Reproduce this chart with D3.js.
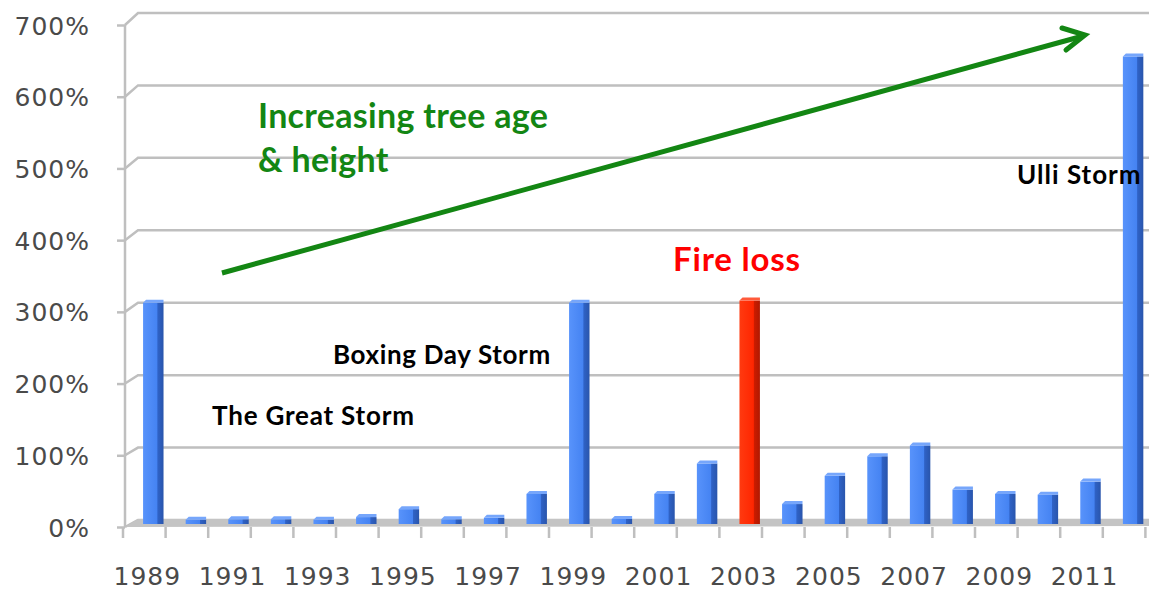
<!DOCTYPE html>
<html>
<head>
<meta charset="utf-8">
<script src="https://cdn.jsdelivr.net/npm/d3@7"></script>
<style>
  body { margin: 0; background: #fff; }
  svg { display: block; }
  .tick text { fill: #4a4a4a; font-family: "DejaVu Sans", sans-serif; }
  .note { font-family: Lato, "Open Sans", sans-serif; font-weight: bold; }
</style>
</head>
<body>
<svg id="chart" width="1149" height="591"></svg>
<script>
// data (loss as % of average)
var years = d3.range(1989, 2013);
var losses = [300, 0.5, 1, 1, 0.5, 4, 15, 1, 3, 36, 300, 1.5, 36, 78, 303, 22, 61, 88, 103, 42, 36, 35, 53, 640];
var fireYears = [2003];
var yTicks = [0, 100, 200, 300, 400, 500, 600, 700];
var xLabelYears = years.filter(function (d) { return (d - 1989) % 2 == 0 && d < 2012; });

var svg = d3.select("#chart");
var step = 42.6;

// back wall scales
var x = d3.scaleBand()
          .domain(years)
          .range([132, 132 + years.length * step])
          .paddingInner(0.52)
          .paddingOuter(0.26);
var y = d3.scaleLinear().domain([0, 700]).range([520, 13]);

// front plane (axis) scales, pseudo 3d offset
var xF = d3.scaleBand().domain(years).range([123, 123 + years.length * step]);
var yF = d3.scaleLinear().domain([0, 700]).range([527, 25]);

var grid = "#bfbfbf";

// gridlines on back wall + diagonal connectors
svg.selectAll(".grid")
   .data(yTicks)
   .enter()
   .append("path")
   .attr("class", "grid")
   .attr("d", function (d) { return "M125," + yF(d) + "L138," + y(d) + "L1149," + y(d); })
   .attr("fill", "none")
   .attr("stroke", grid)
   .attr("stroke-width", 2.5);

// floor
svg.append("path")
   .attr("d", "M125,527L138,519L1149,519L1149,526L125,527Z")
   .attr("fill", "#c4c4c4");

// y axis
var yAxis = d3.axisLeft(yF)
              .tickValues(yTicks)
              .tickSize(8)
              .tickPadding(26)
              .tickFormat(function (d) { return d + "%"; });
var gy = svg.append("g")
            .attr("transform", "translate(125,0)")
            .call(yAxis);
gy.select(".domain").attr("stroke", grid).attr("stroke-width", 2.5).attr("d", "M0,25V527");
gy.selectAll(".tick line").attr("stroke", grid).attr("stroke-width", 2.5);
gy.selectAll(".tick text")
  .attr("x", -35)
  .attr("dy", "0.36em")
  .style("font-size", "25px")
  .style("letter-spacing", "1px");

// x axis ticks at band boundaries
svg.selectAll(".xtick")
   .data(years.concat([2013]))
   .enter()
   .append("line")
   .attr("class", "xtick")
   .attr("x1", function (d, i) { return xF.range()[0] + i * xF.step(); })
   .attr("x2", function (d, i) { return xF.range()[0] + i * xF.step(); })
   .attr("y1", 527)
   .attr("y2", 538)
   .attr("stroke", grid)
   .attr("stroke-width", 2.5);

var xAxis = d3.axisBottom(xF)
              .tickValues(xLabelYears)
              .tickSize(0)
              .tickPadding(0);
var gx = svg.append("g")
            .attr("transform", "translate(3,0)")
            .call(xAxis);
gx.select(".domain").remove();
gx.selectAll(".tick text")
  .attr("y", 585)
  .attr("dy", 0)
  .style("font-size", "25px")
  .style("letter-spacing", "1px");

// bar gradients
var defs = svg.append("defs");
function grad(id, c1, c2, c3) {
    var g = defs.append("linearGradient").attr("id", id).attr("x1", "0").attr("x2", "1");
    g.append("stop").attr("offset", "0").attr("stop-color", c1);
    g.append("stop").attr("offset", "0.68").attr("stop-color", c2);
    g.append("stop").attr("offset", "0.72").attr("stop-color", c3);
    g.append("stop").attr("offset", "1").attr("stop-color", d3.color(c3).darker(0.4));
}
grad("blue", "#5893fb", "#4583f2", "#2f62c6");
grad("red", "#ff3a10", "#ff2600", "#cc1c00");

var bw = x.bandwidth();
var base = 524;
var bars = svg.selectAll(".bar")
              .data(years)
              .enter()
              .append("g")
              .attr("class", "bar");

bars.append("rect")
    .attr("x", function (d) { return x(d); })
    .attr("y", function (d, i) { return y(losses[i]); })
    .attr("width", bw)
    .attr("height", function (d, i) { return base - y(losses[i]); })
    .attr("fill", function (d) { return fireYears.indexOf(d) >= 0 ? "url(#red)" : "url(#blue)"; });

bars.append("path")
    .attr("d", function (d, i) {
        var t = y(losses[i]), l = x(d);
        return "M" + l + "," + t + "L" + (l + 3) + "," + (t - 3) + "L" + (l + bw) + "," + (t - 3) + "L" + (l + bw) + "," + t + "Z";
    })
    .attr("fill", function (d) { return fireYears.indexOf(d) >= 0 ? "#ff5a3a" : "#76a6fb"; });

// annotations
var green = "#138613";
function note(txt, px, py, color, size, spacing) {
    svg.append("text").attr("class", "note")
       .attr("x", px).attr("y", py)
       .attr("fill", color)
       .style("font-size", size + "px")
       .style("letter-spacing", spacing + "px")
       .text(txt);
}
note("Increasing tree age", 258, 128, green, 34, 0.3);
note("& height", 258, 172, green, 34, 0.3);
note("Fire loss", 673, 271, "#ff0000", 33, 0.8);
note("Boxing Day Storm", 333, 364, "#000", 26, 0.65);
note("The Great Storm", 212, 425, "#000", 26, 0.8);
note("Ulli Storm", 1017, 184, "#000", 26, 1);

// trend arrow
svg.append("line")
   .attr("x1", 222).attr("y1", 273)
   .attr("x2", 1083).attr("y2", 36)
   .attr("stroke", green).attr("stroke-width", 5);
svg.append("path")
   .attr("d", "M1062,28L1085,35L1066,50")
   .attr("fill", "none")
   .attr("stroke", green)
   .attr("stroke-width", 5)
   .attr("stroke-linecap", "round");
</script>
</body>
</html>
